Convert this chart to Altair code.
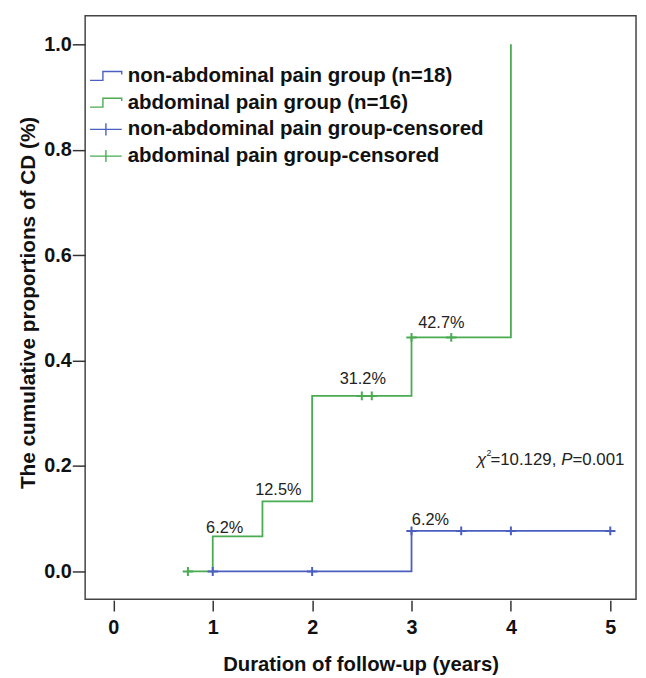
import altair as alt
import pandas as pd

# ---- data ----
# Kaplan-Meier step curves (cumulative proportion of CD)
green_t = [0.75, 1.0, 1.5, 2.0, 3.0, 4.0]
green_p = [0.0, 0.0667, 0.133, 0.333, 0.444, 1.0]
blue_t = [1.0, 3.0, 5.0]
blue_p = [0.0, 0.077, 0.077]

# censored observations
blue_cens_t = [1.0, 2.0, 3.0, 3.5, 4.0, 5.0]
blue_cens_p = [0.0, 0.0, 0.077, 0.077, 0.077, 0.077]
green_cens_t = [0.75, 2.5, 2.6, 3.0, 3.4]
green_cens_p = [0.0, 0.333, 0.333, 0.444, 0.444]

# step annotations
lab_text = ["6.2%", "12.5%", "31.2%", "42.7%", "6.2%"]
lab_t = [1.12, 1.66, 2.51, 3.30, 3.19]
lab_p = [0.073, 0.146, 0.356, 0.462, 0.088]

# test statistic annotation anchor
chi_t = [3.66]
chi_p = [0.212]

series_names = [
    "non-abdominal pain group (n=18)",
    "abdominal pain group (n=16)",
    "non-abdominal pain group-censored",
    "abdominal pain group-censored",
]

x_ticks = [0, 1, 2, 3, 4, 5]
y_ticks = [0.0, 0.2, 0.4, 0.6, 0.8, 1.0]

# ---- styling ----
BLUE = "#4a5fc0"
GREEN = "#4aab52"
FONT = "Liberation Sans"
STEP = "M-1,0.28H-0.19V-0.28H1V-0.1"
PLUS_L = "M-1,0H1M0,-0.38V0.38"
PLUS = "M-1,0H1M0,-0.85V0.85"

blue_df = pd.DataFrame({"t": blue_t, "p": blue_p})
green_df = pd.DataFrame({"t": green_t, "p": green_p})
blue_c_df = pd.DataFrame({"t": blue_cens_t, "p": blue_cens_p})
green_c_df = pd.DataFrame({"t": green_cens_t, "p": green_cens_p})
legend_df = pd.DataFrame({"t": [-1.0] * 4, "p": [-1.0] * 4, "series": series_names})
lab_df = pd.DataFrame({"t": lab_t, "p": lab_p, "text": lab_text})
chi_df = pd.DataFrame({"t": chi_t, "p": chi_p})

x_scale = alt.Scale(domain=[-0.284, 5.259], nice=False, zero=False)
y_scale = alt.Scale(domain=[-0.0525, 1.0544], nice=False, zero=False)
color_scale = alt.Scale(domain=series_names, range=[BLUE, GREEN, BLUE, GREEN])
shape_scale = alt.Scale(domain=series_names, range=[STEP, STEP, PLUS_L, PLUS_L])

x_enc = alt.X(
    "t:Q", scale=x_scale,
    axis=alt.Axis(title="Duration of follow-up (years)", values=x_ticks, format="d",
                  grid=False, domain=False, tickSize=11, offset=1,
                  labelPadding=7, titlePadding=17, titleFontSize=20.5),
)
y_enc = alt.Y(
    "p:Q", scale=y_scale,
    axis=alt.Axis(title="The cumulative proportions of CD (%)", values=y_ticks, format=".1f",
                  grid=False, domain=False, tickSize=13, labelPadding=1, titlePadding=5,
                  titleFontSize=21, titleY=290),
)


def step_line(df, col):
    return alt.Chart(df).mark_line(interpolate="step-after", strokeWidth=1.8, color=col).encode(
        x=x_enc, y=y_enc)


def censor(df, col):
    return alt.Chart(df).mark_point(shape=PLUS, size=110, strokeWidth=2, filled=False,
                                    opacity=1, color=col).encode(x="t:Q", y="p:Q")


leg = alt.Legend(title=None, orient="none", legendX=4, legendY=44)
legend_layer = alt.Chart(legend_df).mark_point(filled=False, clip=True, opacity=1, strokeWidth=1.4).encode(
    x="t:Q", y="p:Q",
    color=alt.Color("series:N", scale=color_scale, legend=leg),
    shape=alt.Shape("series:N", scale=shape_scale, legend=leg),
)

labels = alt.Chart(lab_df).mark_text(font=FONT, fontSize=16.5, align="center", baseline="alphabetic",
                                     color="#222").encode(x="t:Q", y="p:Q", text="text:N")


def chi_piece(txt, dx, dy=0, size=17, style="normal"):
    return alt.Chart(chi_df).mark_text(text=txt, font=FONT, fontSize=size, fontStyle=style,
                                       align="left", baseline="middle", dx=dx, dy=dy,
                                       color="#222").encode(x="t:Q", y="p:Q")


chi = [
    chi_piece("χ", 0, style="italic"),
    chi_piece("2", 9.5, dy=-7, size=9),
    chi_piece("=10.129, ", 13.5),
    chi_piece("P", 85, style="italic"),
    chi_piece("=0.001", 96.5),
]

chart = alt.layer(
    step_line(blue_df, BLUE), step_line(green_df, GREEN),
    censor(blue_c_df, BLUE), censor(green_c_df, GREEN),
    legend_layer, labels, *chi,
).properties(
    width=557, height=590,
    autosize="none",
    padding={"left": 78, "top": 4, "right": 2, "bottom": 76},
).configure_view(
    stroke="#444", strokeWidth=1.5,
).configure_axis(
    labelFont=FONT, labelFontSize=20, labelFontWeight="bold", labelColor="#111",
    titleFont=FONT, titleFontWeight="bold", titleColor="#111",
    tickColor="#333", tickWidth=1.5,
).configure_legend(
    labelFont=FONT, labelFontSize=20.7, labelFontWeight="bold", labelColor="#111",
    symbolSize=1024, symbolStrokeWidth=1.4, labelOffset=5, rowPadding=0,
    padding=0, labelLimit=0, symbolOffset=0,
)

chart.save("out.html", embed_options={"renderer": "svg", "actions": False})
